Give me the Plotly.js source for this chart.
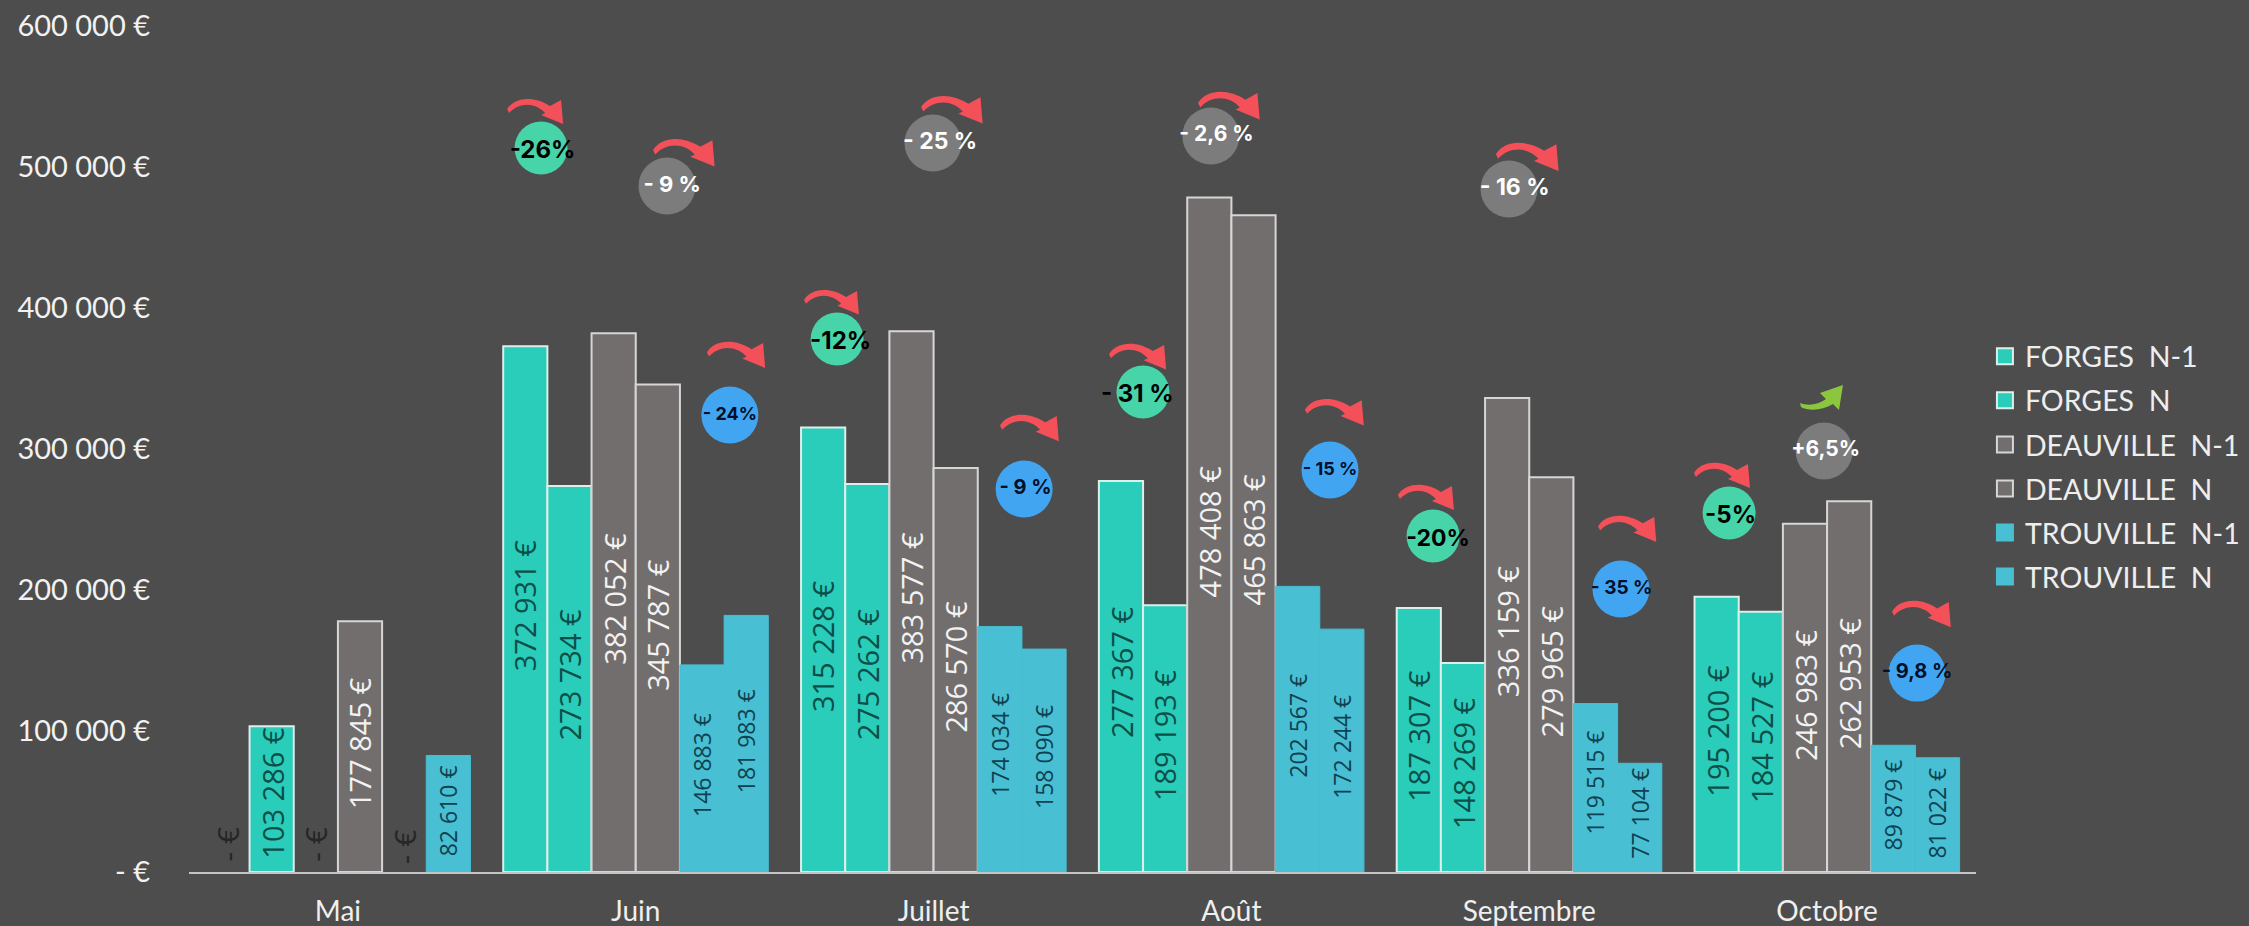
<!DOCTYPE html>
<html><head><meta charset="utf-8">
<script src="https://cdn.plot.ly/plotly-3.0.1.min.js"></script>
<style>html,body{margin:0;padding:0;background:#4d4d4d}#c{width:2249px;height:926px}</style>
</head><body><div id="c"></div>
<script>
const months = ["Mai","Juin","Juillet","Août","Septembre","Octobre"];
const forgesN1 = [0,372931,315228,277367,187307,195200];
const forgesN = [103286,273734,275262,189193,148269,184527];
const deauvilleN1 = [0,382052,383577,478408,336159,246983];
const deauvilleN = [177845,345787,286570,465863,279965,262953];
const trouvilleN1 = [0,146883,174034,202567,119515,89879];
const trouvilleN = [82610,181983,158090,172244,77104,81022];
const seriesNames = ["FORGES  N-1","FORGES  N","DEAUVILLE  N-1","DEAUVILLE  N","TROUVILLE  N-1","TROUVILLE  N"];
const yTicks = [0,100000,200000,300000,400000,500000,600000];

// where each rotated value label is centred, in axis units
const labelY = [
 [19900,189400,160300,141800,96500,100000],
 [56000,140400,140400,97200,77300,95700],
 [19900,193600,195000,241800,170900,125500],
 [91500,175200,145400,235500,142500,134000],
 [17700,75900,90100,103500,63100,47500],
 [43300,92900,81600,88700,41800,41800]
];

// percentage badges
const badgeText = ["-26%","- 9 %","- 24%","-12%","- 25 %","- 9 %","- 31 %","- 2,6 %","- 15 %","-20%","- 16 %","- 35 %","-5%","+6,5%","- 9,8 %"];
const badgeX = [0.682,1.105,1.316,1.676,1.998,2.304,2.703,2.931,3.331,3.677,3.932,4.308,4.671,4.990,5.302];
const badgeY = [513460,486500,324100,378000,517000,271600,340400,522000,285100,238300,484400,200700,254600,298600,141100];
const badgeKind = ["f","d","t","f","d","t","f","d","t","f","d","t","f","d","t"];
const badgeFont = [24,22,18,24,23,20,24,21,18,23,23,19,24,21,20];
const badgeTextShiftX = [0.005,0.017,0,0.012,0.024,0.005,-0.019,0.019,0,0.017,0.019,0.002,0.005,0.005,0];

// trend arrows: top-left anchor in axis units, scale
const arrowX = [0.568,1.058,1.239,1.565,1.958,2.223,2.589,2.888,3.247,3.559,3.888,4.231,4.553,5.218];
const arrowY = [548200,519800,375900,412700,550300,324100,374500,553200,335400,274500,517000,252500,290100,192200];
const arrowScale = [1,1.1,1.04,0.98,1.1,1.05,1.02,1.1,1.05,1,1.12,1.04,1,1.05];
const upArrowX = 4.909, upArrowY = 345400;

const allSeries = [forgesN1,forgesN,deauvilleN1,deauvilleN,trouvilleN1,trouvilleN];
const fill = ["#2accba","#2accba","#736e6e","#736e6e","#48bfd3","#48bfd3"];
const edge = ["#dcefea","#dcefea","#d6d6d6","#d6d6d6","#48bfd3","#48bfd3"];
const edgeW = [2,2,2,2,1,1];
const labelColor = ["#0c4f49","#0c4f49","#f2f2f2","#f2f2f2","#0f4250","#0f4250"];
const labelSize = [29,29,29,29,23,23];
const GAP = 0.11, BAR = (1-GAP)/6;

const fmt = v => v===0 ? "- €" : String(v).replace(/\B(?=(\d{3})+$)/g,"\u00a0")+"\u00a0€";
const idx = months.map((_,i)=>i);

const traces = [];
allSeries.forEach((vals,s)=>{
  traces.push({type:"bar",x:idx,y:vals,showlegend:false,hoverinfo:"skip",
    marker:{color:fill[s],line:{color:edge[s],width:vals.map(v=>v===0?0:edgeW[s])}}});
});
const kindFill = {f:"#47d4a8",d:"#7c7c7c",t:"#41a5f2"};
const kindText = {f:"#000000",d:"#ffffff",t:"#02102a"};
const kindTextDy = {f:-3000,d:0,t:0};
traces.push({type:"scatter",mode:"markers",x:badgeX,y:badgeY,showlegend:false,hoverinfo:"skip",cliponaxis:false,
  marker:{opacity:1,size:badgeKind.map(k=>k==="f"?53:57),color:badgeKind.map(k=>kindFill[k]),line:{width:0}}});
traces.push({type:"scatter",mode:"text",x:badgeX.map((x,i)=>x+badgeTextShiftX[i]),
  y:badgeY.map((y,i)=>y+kindTextDy[badgeKind[i]]),text:badgeText,
  textposition:"middle center",showlegend:false,hoverinfo:"skip",cliponaxis:false,
  textfont:{family:"Inter, 'Open Sans', sans-serif",weight:700,size:badgeFont,color:badgeKind.map(k=>kindText[k])}});
// legend swatches
seriesNames.forEach((n,s)=>{
  traces.push({type:"scatter",mode:"markers",x:[null],y:[null],name:n,legendgroup:"g"+s,hoverinfo:"skip",
    marker:{symbol:"square",size:16,color:fill[s],line:{color:s<4?edge[s]:fill[s],width:2}}});
});

const annotations = [];
allSeries.forEach((vals,s)=>{
  vals.forEach((v,m)=>{
    annotations.push({xref:"x",yref:"y",x:m+(s-2.5)*BAR,y:labelY[s][m],text:fmt(v),showarrow:false,textangle:-90,
      font:{family:"'Open Sans', sans-serif",size:v===0?30:labelSize[s],color:v===0?"#262626":labelColor[s]}});
  });
});

const downPts = "M0,-10 C8,3 28,3 43,-7 L54,-1 L56,-25 L34,-16 L38,-14 C28,-3 12,-3 2,-14 Z";
const upPts = "M0,-18 C8,-21 18,-20 26,-14 L20,-8 L43,0 L39,-25 L33,-19 C22,-26 8,-26 1,-22 Z";
const scalePath = (p,k)=>p.replace(/-?\d+(\.\d+)?/g,n=>(parseFloat(n)*k).toFixed(1));
const shapes = arrowX.map((x,i)=>({type:"path",xref:"x",yref:"y",xsizemode:"pixel",ysizemode:"pixel",
  xanchor:x,yanchor:arrowY[i],path:scalePath(downPts,arrowScale[i]),fillcolor:"#f4505a",line:{width:0},layer:"above"}));
shapes.push({type:"path",xref:"x",yref:"y",xsizemode:"pixel",ysizemode:"pixel",
  xanchor:upArrowX,yanchor:upArrowY,path:upPts,fillcolor:"#8cc63f",line:{width:0},layer:"above"});

const layout = {
  width:2249,height:926,paper_bgcolor:"#4d4d4d",plot_bgcolor:"#4d4d4d",
  margin:{l:189,r:273,t:26,b:54,pad:0,autoexpand:false},
  barmode:"group",bargap:GAP,bargroupgap:0,
  font:{family:"Lato, sans-serif",color:"#f2f2f2"},
  xaxis:{type:"linear",range:[-0.5,5.5],tickvals:idx,ticktext:months,showgrid:false,zeroline:false,
    showline:true,linecolor:"#c4c4c4",linewidth:2,ticks:"",ticklabelstandoff:13,automargin:false,
    tickfont:{family:"Lato, sans-serif",size:28,color:"#efefef"}},
  yaxis:{type:"linear",range:[0,600000],tickvals:yTicks,ticktext:yTicks.map(fmt),showgrid:false,zeroline:false,
    showline:false,ticks:"",ticklabelstandoff:38,automargin:false,
    tickfont:{family:"Lato, sans-serif",size:29,color:"#f2f2f2"}},
  legend:{x:1.005,xanchor:"left",y:0.479,yanchor:"middle",traceorder:"grouped",tracegroupgap:4,
    font:{family:"Lato, sans-serif",size:28.5,color:"#eeeeee"},bgcolor:"rgba(0,0,0,0)",itemclick:false,itemdoubleclick:false},
  annotations,shapes
};
Plotly.newPlot("c",traces,layout,{displayModeBar:false,staticPlot:true});
</script></body></html>
